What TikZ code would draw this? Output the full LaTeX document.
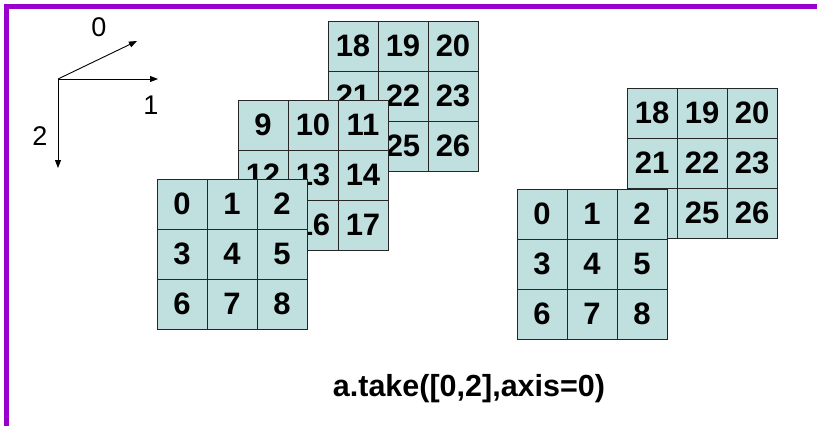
\documentclass[tikz,border=0pt]{standalone}
\usepackage{fontspec}
\setmainfont{Liberation Sans}
\usetikzlibrary{arrows.meta,positioning}
\definecolor{cellfill}{HTML}{C0E0E0}
\definecolor{frameline}{HTML}{9900CC}
\tikzset{
  cell/.style={draw=black!85,fill=cellfill,line width=1pt,minimum size=50pt,
    inner sep=0pt,font=\bfseries\fontsize{31}{31}\selectfont},
  axisarrow/.style={line width=0.9pt,-{Triangle[length=8pt,width=6pt]}},
  axislabel/.style={font=\fontsize{27}{27}\selectfont}
}
% one 3x3 slab of the array: name, left, top, first value, value hidden behind
\newcommand{\slab}[5]{
  \foreach \r in {0,1,2} {
    \foreach \c in {0,1,2} {
      \pgfmathtruncatemacro{\v}{#4+3*\r+\c}
      \ifnum\v=#5\relax\def\v{}\fi
      \node[cell] (#1-\r\c) at (#2+25+50*\c,#3+25+50*\r) {\v};
    }
  }
}
\begin{document}
\begin{tikzpicture}[x=1pt,y=-1pt]
  \useasboundingbox[fill=white] (0,0) rectangle (817,426);
  \draw[frameline,line width=5pt] (6.5,426) -- (6.5,6.5) -- (817,6.5);
  % axes
  \coordinate (o) at (58,79);
  \coordinate (ax0) at (137,41);
  \coordinate (ax1) at (158,79);
  \coordinate (ax2) at (58,168);
  \draw[axisarrow] (o) -- (ax0);
  \draw[axisarrow] (o) -- (ax1);
  \draw[axisarrow] (o) -- (ax2);
  \node[axislabel] (l0) at (99,27) {0};
  \node[axislabel] (l1) at (151,105) {1};
  \node[axislabel] (l2) at (40,136) {2};
  % the whole array
  \slab{back}{328}{21}{18}{24}
  \slab{mid}{238}{100}{9}{15}
  \slab{front}{157}{179}{0}{-1}
  % after take
  \slab{tback}{627}{88}{18}{24}
  \slab{tfront}{517}{189}{0}{-1}
  \node[anchor=base,font=\bfseries\fontsize{30.5}{30.5}\selectfont] (title) at (469,396)
    {a.take([0,2],axis=0)};
\end{tikzpicture}
\end{document}
